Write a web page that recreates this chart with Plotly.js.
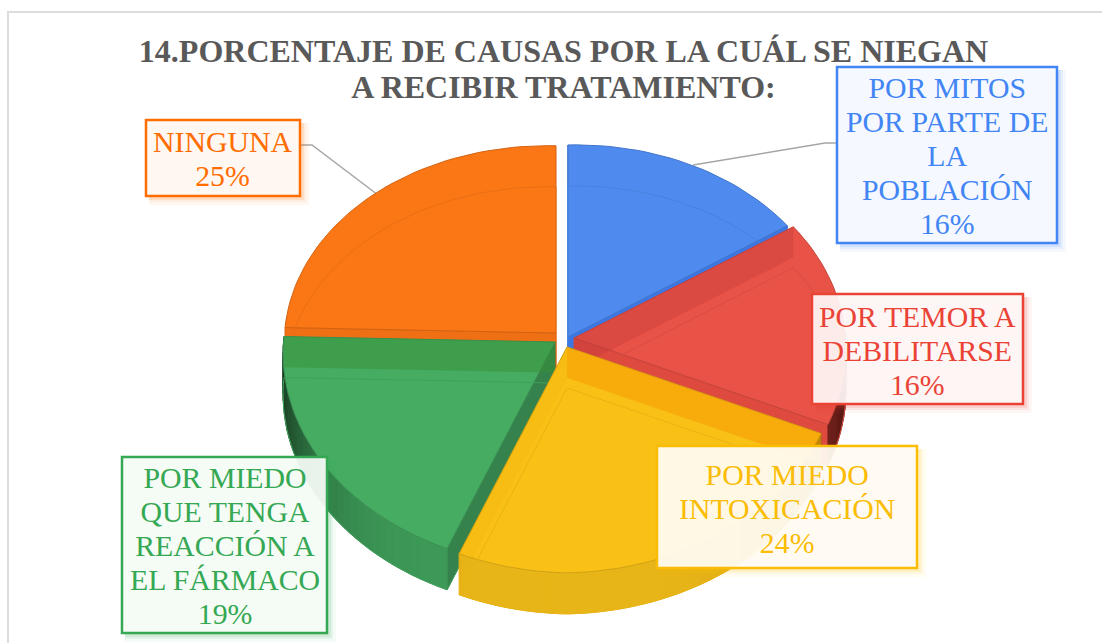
<!DOCTYPE html>
<html><head><meta charset="utf-8">
<script src="https://cdn.plot.ly/plotly-3.0.1.min.js"></script>
<style>html,body{margin:0;padding:0;background:#fff}#c{width:1102px;height:643px}</style>
</head><body><div id="c"></div>
<script>
const categories = ["POR MITOS<br>POR PARTE DE<br>LA<br>POBLACIÓN","POR TEMOR A<br>DEBILITARSE","POR MIEDO<br>INTOXICACIÓN","POR MIEDO<br>QUE TENGA<br>REACCIÓN A<br>EL FÁRMACO","NINGUNA"];
const percents = [16,16,24,19,25];
const colors = ["#4285F4","#EA4335","#FBBC04","#34A853","#FF6D01"];
const faceColors = ["#4F8BEF","#E95246","#F9C015","#45AC62","#FB7615"];
const rimColors = ["#2F6AD0","#B8342A","#E8B518","#3D9A58","#D9620F"];
const frontWallColors = ["#3B78E6","#DF4A3E","#E3B800","#35824D","#EE6F14"];
const seeThroughColors = ["rgba(30,70,180,0.2)","rgba(190,56,60,0.5)","rgba(245,150,0,0.55)","rgba(57,144,52,0.5)","rgba(180,70,0,0.2)"];
const titleText = "14.PORCENTAJE DE CAUSAS POR LA CUÁL SE NIEGAN<br>A RECIBIR TRATAMIENTO:";

// projection of the tilted disc
const R = 271, K = 207.6, P = 0.081, DEPTH = 41, BEND = 5.5;
const apexes = [[568,337],[574,338],[567,347],[555,342],[556,333]];
const boxes = [[837,67,1057,243],[812,294,1023,404],[657,446,917,568],[122,457,327,633],[146,120,300,196]];
const drawOrder = [4,0,1,3,2];
const FS = 29.8, LH = 34;

function pt(i,deg,r,z){
  const a = deg*Math.PI/180, u = Math.sin(a)*r, v = Math.cos(a)*r, s = 1/(1+P*v);
  const kv = i===4 ? 0.975 : 1;
  return [apexes[i][0]+R*u*s, apexes[i][1]-K*kv*v*s-BEND*Math.abs(u)+z];
}
function poly(pts,fill,line,w){
  return {type:'scatter',mode:'lines',x:pts.map(p=>p[0]).concat(pts[0][0]),y:pts.map(p=>p[1]).concat(pts[0][1]),
    fill:'toself',fillcolor:fill,line:{color:line||'rgba(0,0,0,0)',width:w===undefined?1:w},hoverinfo:'skip',showlegend:false};
}
function arc(i,a,b,r,z){const n=Math.max(2,Math.ceil(Math.abs(b-a)/2)),o=[];for(let k=0;k<=n;k++)o.push(pt(i,a+(b-a)*k/n,r,z));return o;}
function mix(h,t,f){const c=[1,3,5].map(k=>parseInt(h.substr(k,2),16));return 'rgb('+c.map(x=>Math.round(x+(t-x)*f)).join(',')+')';}

const traces=[];
const total = percents.reduce((a,b)=>a+b,0);
const starts=[];let acc=0;percents.forEach(p=>{starts.push(acc/total*360);acc+=p;});

drawOrder.forEach(i=>{
  const a=starts[i], b=a+percents[i]/total*360, apex=pt(i,0,0,0), apexB=pt(i,0,0,DEPTH);
  const top=[apex].concat(arc(i,a,b,1,0));
  const mid=pt(i,(a+b)/2,1,0);
  const walls=[a,b].map(d=>{
    const tip=pt(i,d,1,0), ex=tip[0]-apex[0], ey=tip[1]-apex[1];
    const crossMid=ex*(mid[1]-apex[1])-ey*(mid[0]-apex[0]);
    return {d,tip,inside:ex*crossMid>0,flat:Math.abs(ex)/Math.hypot(ex,ey)};
  });
  // front walls
  walls.filter(w=>!w.inside).forEach(w=>{
    traces.push(poly([apex,w.tip,pt(i,w.d,1,DEPTH),apexB],frontWallColors[i],mix(frontWallColors[i],0,0.08)));
  });
  // outer rim, only its front part, shaded towards the sides
  const STEP=2;
  for(let d=Math.max(a,90);d<Math.min(b,270);d+=STEP){
    const e=Math.min(d+STEP,Math.min(b,270));
    const f=Math.pow(Math.abs(Math.sin(d*Math.PI/180)),5)*0.6;
    const c=mix(rimColors[i],0,f);
    traces.push(poly(arc(i,d,e,1,0).concat(arc(i,e,d,1,DEPTH)),c,c));
  }
  // top face
  traces.push(poly(top,faceColors[i],mix(faceColors[i],0,0.16)));
  // the bottom outline and the back walls, seen through the face
  traces.push(poly([apexB].concat(arc(i,a,b,1,DEPTH)),'rgba(0,0,0,0)',mix(faceColors[i],0,0.07),1));
  walls.filter(w=>w.inside).forEach(w=>{
    const t=poly([apex,w.tip,pt(i,w.d,1,DEPTH*0.75),pt(i,0,0,DEPTH*0.75)],seeThroughColors[i],'rgba(0,0,0,0)',0);
    t.opacity=Math.pow(w.flat,3);
    traces.push(t);
  });
});

const shapes=[
  {type:'rect',x0:8,y0:12,x1:1120,y1:660,line:{color:'#DDDDDD',width:2},fillcolor:'rgba(0,0,0,0)',layer:'below'},
  {type:'path',path:'M 300 145 L 312 145 L 378 195',line:{color:'#A6A6A6',width:1.5},layer:'below'},
  {type:'path',path:'M 837 143 L 825 143 L 693 165',line:{color:'#A6A6A6',width:1.5},layer:'below'}
];
boxes.forEach((b,i)=>{
  [[9,.05],[6,.08],[4,.12]].forEach(s=>shapes.push({type:'rect',x0:b[0]+3,y0:b[1]+3,x1:b[2]+s[0],y1:b[3]+s[0],
    fillcolor:colors[i],opacity:s[1],line:{width:0},layer:'above'}));
  shapes.push({type:'rect',x0:b[0],y0:b[1],x1:b[2],y1:b[3],fillcolor:mix(colors[i],255,0.96).replace('rgb','rgba').replace(')',',0.93)'),line:{color:colors[i],width:2.5},layer:'above'});
});
const annotations=categories.map((c,i)=>{
  const t=c+'<br>'+percents[i]+'%', b=boxes[i];
  return {x:(b[0]+b[2])/2,y:(b[1]+b[3])/2+1,xref:'x',yref:'y',text:t,showarrow:false,xanchor:'center',yanchor:'middle',align:'center',
    font:{family:'"Liberation Serif",serif',size:FS,color:colors[i]}};
});
const layout={width:1102,height:643,margin:{l:0,r:0,t:0,b:0},paper_bgcolor:'#fff',plot_bgcolor:'#fff',showlegend:false,
  title:{text:titleText,x:563.5/1102,xanchor:'center',y:1-62/643,yanchor:'middle',font:{family:'"Liberation Serif",serif',size:32,color:'#595959',weight:700}},
  xaxis:{range:[0,1102],visible:false,fixedrange:true},yaxis:{range:[643,0],visible:false,fixedrange:true},shapes,annotations};
Plotly.newPlot('c',traces,layout,{displayModeBar:false,staticPlot:true}).then(gd=>{
  const tight=(el,lh)=>{el.querySelectorAll('tspan.line').forEach((t,i)=>t.setAttribute('dy',(i*lh)+'px'));};
  gd.querySelectorAll('.annotation-text').forEach(el=>{
    const n=el.querySelectorAll('tspan.line').length; tight(el,LH);
    el.setAttribute('transform','translate(0,'+((n-1)*(FS*1.3-LH)/2)+')');
  });
  const tt=gd.querySelector('.gtitle'); if(tt){tight(tt,36);}
});
</script></body></html>
